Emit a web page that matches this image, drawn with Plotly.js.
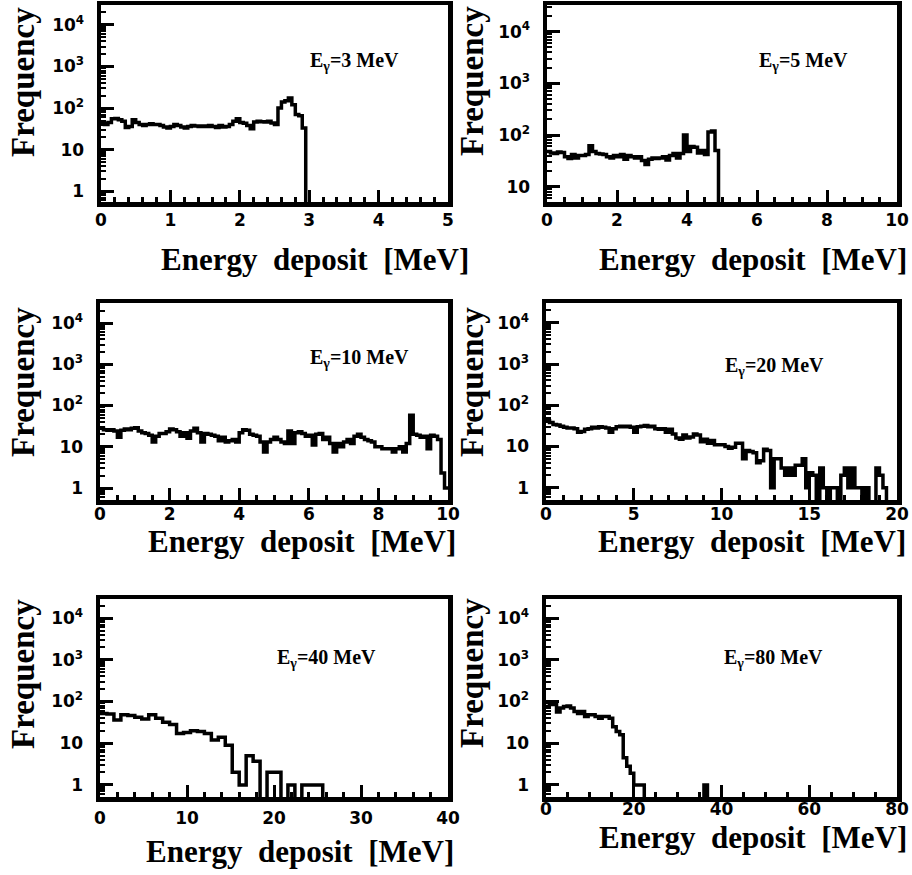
<!DOCTYPE html>
<html><head><meta charset="utf-8">
<script src="https://cdn.plot.ly/plotly-3.0.1.min.js"></script>
<style>html,body{margin:0;padding:0;background:#fff}#chart{width:912px;height:875px}</style>
</head><body><div id="chart"></div>
<script>
// ---------- data ----------
const beamEnergies = [3, 5, 10, 20, 40, 80];           // MeV, one panel each
const binWidths   = [0.05, 0.1, 0.1, 0.2, 0.8, 0.8];   // MeV per histogram bin
const xMaxima     = [5, 10, 10, 20, 40, 80];

const counts3MeV = [42,40,45,55,56,52,48,34,36,52, 45,40,38,40,42,40,40,38,35,33,
  36,40,38,35,33,36,38,37,36,37, 36,38,36,34,38,35,36,40,48,55,
  45,43,38,32,46,48,47,46,48,44, 40,100,140,150,175,120,70,65,33,0];

const counts5MeV = [48,45,44,47,46,38,35,42,36,40, 40,42,62,48,44,43,42,38,36,40,
  38,42,34,40,38,36,38,32,27,34, 36,35,36,38,33,40,44,36,44,100,
  48,60,58,45,50,42,115,120,50,0];

const counts10MeV = [28,26,25,26,24,17,25,27,26,28, 29,24,22,21,19,13,18,21,21,23,
  27,26,23,18,22,16,24,28,22,13, 21,20,19,18,14,17,13,14,15,13,
  22,26,25,20,19,18,13,7.5,13,15, 17,15,13,12,24,12,22,23,21,18,
  19,11,20,21,15,17,12,7.5,12,10, 13,15,12,18,20,17,15,14,13,10,
  10,9,9,9,7.5,9,10,7.5,12,58, 20,19,17,18,9,19,18,15,2.3,1];

const counts20MeV = [42,38,34,33,31,29,28,28,27,22, 23,26,27,29,28,30,29,28,22,27,
  30,31,30,31,29,22,30,31,32,30, 31,27,26,27,22,26,20,16,15,19,
  16,17,20,19,13,15,12,14,11,11, 11,10,9,9.5,12,12,5,8,7.5,7,
  4,4.5,8.5,8,1,5,5,3,2,3, 2,3.5,3.5,5,1,2.3,2,0,3,1,
  0,1,1,0,2,3,1,3,1,1, 0,1,0,0,3,2,1,0,0,0];

const counts40MeV = [52,50,36,48,46,42,38,48,40,32, 28,17,18,20,19,17,12,14,9,2,
  1,5,3.7,0,2,2,0,1,0,1, 1,1,0,0,0,0,0,0,0,0,
  0,0,0,0,0,0,0,0,0,0];

const counts80MeV = [95,85,90,56,70,76,78,70,58,52, 58,44,48,48,44,40,44,44,40,25,
  19,16,4.5,2.8,1.9,1,1,1,0,0, 0,0,0,0,0,0,0,0,0,0,
  0,0,0,0,0,1,0,0,0,0, 0,0,0,0,0,0,0,0,0,0,
  0,0,0,0,0,0,0,0,0,0, 0,0,0,0,0,0,0,0,0,0,
  0,0,0,0,0,0,0,0,0,0, 0,0,0,0,0,0,0,0,0,0];

const yTickVals  = [1, 10, 100, 1000, 10000];
const yTickText  = ['1', '10', '10<sup>2</sup>', '10<sup>3</sup>', '10<sup>4</sup>'];
const xMajorStep = [1, 2, 2, 5, 10, 20];
const xMinorStep = [0.2, 0.5, 0.5, 1, 2, 5];
const yTitle = 'Frequency';
const xTitle = 'Energy\u00a0 deposit\u00a0 [MeV]';

// ---------- layout (pixels) ----------
const W = 912, H = 875;
const frames = [
  {l:101, r:448, t:5,   b:202}, {l:547, r:897, t:5,   b:202},
  {l:100, r:448, t:303, b:500}, {l:546, r:897, t:303, b:500},
  {l:100, r:448, t:599, b:797}, {l:546, r:897, t:599, b:797}];
const yLogRanges = [[-0.26,4.48],[0.704,4.516],[-0.29,4.485],[-0.3,4.48],[-0.29,4.46],[-0.29,4.46]];
const xLabelShift = [-1, -1, -5, -5, 2, -7];
const freqPos   = [[23,82],[472,81],[23,382],[472,382],[23,674],[472,673]];
const xTitlePos = [[470,259],[908,259],[457,541],[907,541],[455,851],[908,837]];
const labelPos  = [[308,61],[757,61],[308,358],[723,366],[275,658],[722,658]];

const countsList = [counts3MeV, counts5MeV, counts10MeV, counts20MeV, counts40MeV, counts80MeV];
const yMinorVals = [];
for (let d = -1; d <= 4; d++) for (let k = 2; k <= 9; k++) yMinorVals.push(k * Math.pow(10, d));

const traces = [];
const layout = {
  width: W, height: H, margin: {l:0, r:0, t:0, b:0},
  paper_bgcolor: '#fff', plot_bgcolor: '#fff', showlegend: false,
  annotations: []
};
const tickFont = {family: 'DejaVu Sans', size: 17, weight: 'bold', color: '#000'};
const serif = 'Liberation Serif';

countsList.forEach((counts, i) => {
  const s = i === 0 ? '' : String(i + 1);
  const f = frames[i];
  const bw = binWidths[i];
  const xs = [], ys = [];
  counts.forEach((c, k) => { xs.push(k * bw); ys.push(c > 0 ? c : 1e-3); });
  xs.push(counts.length * bw); ys.push(ys[ys.length - 1]);
  traces.push({type: 'scatter', mode: 'lines', x: xs, y: ys, xaxis: 'x' + s, yaxis: 'y' + s,
    line: {shape: 'hv', color: '#000', width: 3.5}, hoverinfo: 'skip'});

  layout['xaxis' + s] = {
    domain: [f.l / W, f.r / W], range: [0, xMaxima[i]], anchor: 'y' + s,
    tickmode: 'linear', tick0: 0, dtick: xMajorStep[i],
    ticks: 'inside', ticklen: 12, tickwidth: 3, tickcolor: '#000',
    showline: true, linewidth: 4.5, linecolor: '#000', mirror: true,
    showgrid: false, zeroline: false, tickfont: tickFont, ticklabelstandoff: xLabelShift[i],
    minor: {tickmode: 'linear', tick0: 0, dtick: xMinorStep[i], ticks: 'inside',
            ticklen: 5, tickwidth: 3, tickcolor: '#000', showgrid: false},
    fixedrange: true
  };
  layout['yaxis' + s] = {
    domain: [1 - f.b / H, 1 - f.t / H], type: 'log', range: yLogRanges[i], anchor: 'x' + s,
    tickmode: 'array', tickvals: yTickVals, ticktext: yTickText,
    ticks: 'inside', ticklen: 13, tickwidth: 3, tickcolor: '#000',
    showline: true, linewidth: 4.5, linecolor: '#000', mirror: true,
    showgrid: false, zeroline: false, tickfont: tickFont, ticklabelstandoff: 9,
    minor: {tickmode: 'array', tickvals: yMinorVals, ticks: 'inside',
            ticklen: 5, tickwidth: 2, tickcolor: '#000', showgrid: false},
    fixedrange: true
  };

  layout.annotations.push({
    xref: 'paper', yref: 'paper', x: freqPos[i][0] / W, y: 1 - freqPos[i][1] / H,
    xanchor: 'center', yanchor: 'middle', textangle: -90, showarrow: false,
    text: '<b>' + yTitle + '</b>', font: {family: serif, size: 33, color: '#000'}
  });
  layout.annotations.push({
    xref: 'paper', yref: 'paper', x: xTitlePos[i][0] / W, y: 1 - xTitlePos[i][1] / H,
    xanchor: 'right', yanchor: 'middle', showarrow: false, borderpad: 0,
    text: '<b>' + xTitle + '</b>', font: {family: serif, size: 31, color: '#000'}
  });
  layout.annotations.push({
    xref: 'paper', yref: 'paper', x: labelPos[i][0] / W, y: 1 - labelPos[i][1] / H,
    xanchor: 'left', yanchor: 'middle', showarrow: false,
    text: '<b>E<sub>\u03b3</sub>=' + beamEnergies[i] + ' MeV</b>',
    font: {family: serif, size: 20, color: '#000'}
  });
});

Plotly.newPlot('chart', traces, layout, {staticPlot: true, displayModeBar: false});
</script>
</body></html>
